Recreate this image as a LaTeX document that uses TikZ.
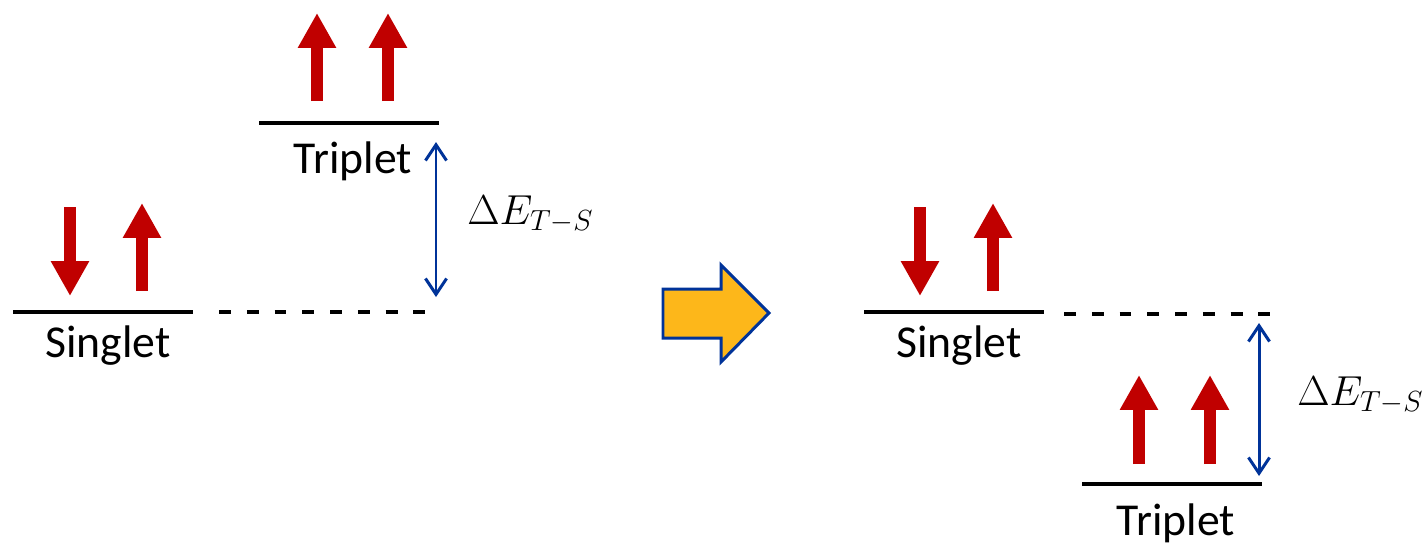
\documentclass[tikz,border=0pt]{standalone}
\usepackage{graphicx}
\usepackage{fontspec}
\setmainfont{Carlito}
\usetikzlibrary{arrows.meta}
\definecolor{spinred}{RGB}{192,0,0}
\definecolor{gapblue}{RGB}{0,51,153}
\definecolor{stepfill}{RGB}{253,183,26}
\tikzset{level/.style = {line width = 2.8pt, line cap = butt}}
\tikzset{guide/.style = {line width = 2pt, dash pattern = on 6.8pt off 9pt}}
\tikzset{spin/.style = {spinred, line width = 6.8pt, -{Triangle[width = 20.4pt, length = 19.8pt]}}}
\tikzset{gap/.style = {gapblue, line width = 1.7pt, {Straight Barb[width = 12pt, length = 9pt]}-{Straight Barb[width = 12pt, length = 9pt]}}}
\tikzset{label/.style = {anchor = base, inner sep = 0pt, font = \fontsize{26}{30}\selectfont}}
\tikzset{energy/.style = {anchor = base west, inner sep = 0pt, font = \fontsize{22.5}{27}\selectfont}}
\newcommand{\gaplabel}{\scalebox{1.15}{$\Delta E_{T-S}$}}

\begin{document}
\begin{tikzpicture}[x = 0.02cm, y = -0.02cm]
	\useasboundingbox (0, 0) rectangle (1424, 549);

	% before
	\coordinate (s1l) at (13, 312);
	\coordinate (s1r) at (193, 312);
	\coordinate (d1l) at (219, 312);
	\coordinate (d1r) at (432, 312);
	\coordinate (t1l) at (259, 123);
	\coordinate (t1r) at (439, 123);
	\coordinate (g1a) at (436, 142);
	\coordinate (g1b) at (436, 297);

	\draw[level] (s1l) -- (s1r);
	\draw[guide] (d1l) -- (d1r);
	\draw[level] (t1l) -- (t1r);
	\draw[gap] (g1a) -- (g1b);

	\draw[spin] (70, 207) -- (70, 296);
	\draw[spin] (142, 291) -- (142, 203);
	\draw[spin] (317, 101) -- (317, 13);
	\draw[spin] (388, 101) -- (388, 13);

	\node[label] (singlet1) at (108, 357) {Singlet};
	\node[label] (triplet1) at (353, 173) {Triplet};
	\node[energy] (delta1) at (467, 224) {\gaplabel};

	% change
	\draw[gapblue, line width = 1.7pt, fill = stepfill, line join = miter]
		(663, 289) -- (721, 289) -- (721, 265) -- (769, 313) -- (721, 362) -- (721, 338) -- (663, 338) -- cycle;

	% after
	\coordinate (s2l) at (864, 312);
	\coordinate (s2r) at (1044, 312);
	\coordinate (d2l) at (1064, 314);
	\coordinate (d2r) at (1272, 314);
	\coordinate (t2l) at (1082, 484);
	\coordinate (t2r) at (1262, 484);
	\coordinate (g2a) at (1259, 323);
	\coordinate (g2b) at (1259, 476);

	\draw[level] (s2l) -- (s2r);
	\draw[guide] (d2l) -- (d2r);
	\draw[level] (t2l) -- (t2r);
	\draw[gap] (g2a) -- (g2b);

	\draw[spin] (920, 207) -- (920, 296);
	\draw[spin] (993, 291) -- (993, 203);
	\draw[spin] (1139, 464) -- (1139, 375);
	\draw[spin] (1210, 464) -- (1210, 375);

	\node[label] (singlet2) at (959, 357) {Singlet};
	\node[label] (triplet2) at (1176, 535) {Triplet};
	\node[energy] (delta2) at (1297, 405) {\gaplabel};
\end{tikzpicture}
\end{document}
